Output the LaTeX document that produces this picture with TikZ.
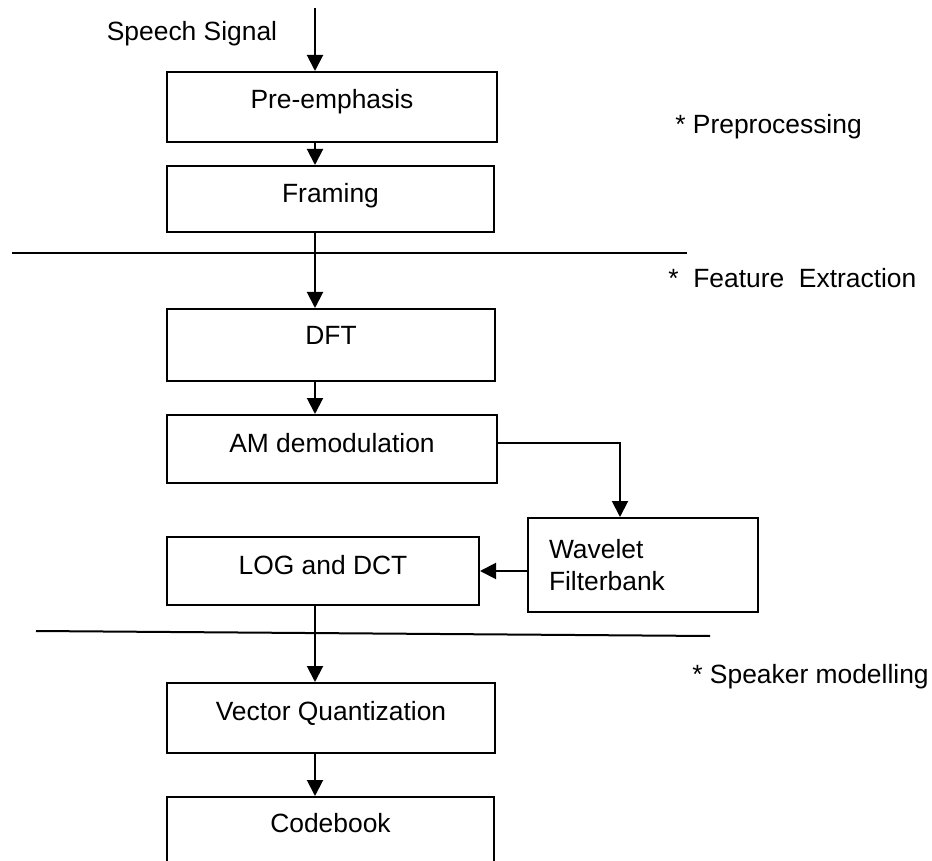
\documentclass[tikz,border=0pt]{standalone}
\usepackage{fontspec}
\setmainfont{Liberation Sans}
\usetikzlibrary{arrows.meta}

\begin{document}
\begin{tikzpicture}[x=0.5pt,y=-0.5pt,font=\fontsize{13.2}{16}\selectfont,
  blk/.style={draw,line width=1pt,inner sep=0pt,anchor=north west},
  arr/.style={line width=1pt,-{Triangle[length=8pt,width=8pt]}},
  sep/.style={line width=1pt},
  lbl/.style={anchor=west,inner sep=0pt}]
\useasboundingbox (0,0) rectangle (932,861);

\node[blk,minimum width=165pt,text height=18.5pt,text depth=16.5pt] (pre) at (166,71) {Pre-emphasis};
\node[blk,minimum width=163.5pt,text height=18.5pt,text depth=14.5pt] (frm) at (166,165) {Framing};
\node[blk,minimum width=164pt,text height=17.5pt,text depth=18.5pt] (dft) at (166,308) {DFT};
\node[blk,minimum width=165pt,text height=18.5pt,text depth=15.5pt] (am) at (166,414) {AM demodulation};
\node[blk,minimum width=115pt,minimum height=47pt,inner xsep=10.5pt,text width=94pt,align=left] (wav) at (527,517) {Wavelet\\Filterbank};
\node[blk,minimum width=156pt,text height=18.5pt,text depth=15.5pt] (log) at (166,536) {LOG and DCT};
\node[blk,minimum width=164pt,text height=18.5pt,text depth=16.5pt] (vq) at (166,682) {Vector Quantization};
\node[blk,minimum width=163.5pt,text height=17.5pt,text depth=30pt] (cb) at (166,796) {Codebook};

\node (sig) at (192,34) {Speech Signal};
\node[lbl] (pp) at (675,127) {* Preprocessing};
\node[lbl] (fe) at (668,278) {*\ \ Feature\ \ Extraction};
\node[lbl] (sm) at (692,677) {* Speaker modelling};

\coordinate (in) at (315,8);
\draw[arr] (in) -- (in |- pre.north);
\draw[arr] (in |- pre.south) -- (in |- frm.north);
\draw[arr] (in |- frm.south) -- (in |- dft.north);
\draw[arr] (in |- dft.south) -- (in |- am.north);
\draw[arr] ([yshift=3pt]am.east) -| ([xshift=-11.5pt]wav.north);
\draw[arr] (wav.west |- log.east) -- (log.east);
\draw[arr] (in |- log.south) -- (in |- vq.north);
\draw[arr] (in |- vq.south) -- (in |- cb.north);

\draw[sep] (12,253) -- (687,253);
\draw[sep] (36,631) -- (710,636);
\end{tikzpicture}
\end{document}
